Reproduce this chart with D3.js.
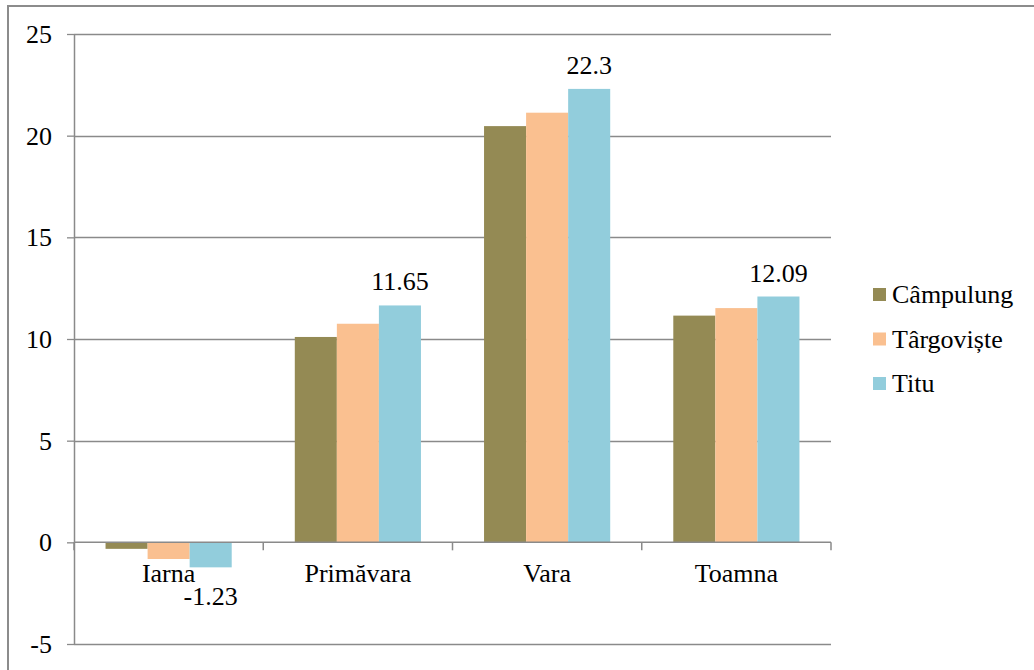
<!DOCTYPE html>
<html>
<head>
<meta charset="utf-8">
<script src="https://cdn.jsdelivr.net/npm/d3@7"></script>
<style>
  html, body { margin: 0; padding: 0; background: #fff; }
  svg { display: block; }
</style>
</head>
<body>
<svg id="chart" width="1034" height="670"></svg>
<script>
// Seasonal mean temperatures (°C) for three stations
const seasons = ["Iarna", "Primăvara", "Vara", "Toamna"];
const stations = ["Câmpulung", "Târgoviște", "Titu"];
const campulung = [-0.32, 10.1, 20.47, 11.15];
const targoviste = [-0.82, 10.75, 21.13, 11.52];
const titu = [-1.23, 11.65, 22.3, 12.09];
const stationColors = ["#948A54", "#FAC090", "#92CDDC"];
const yTicks = [-5, 0, 5, 10, 15, 20, 25];
const yTickLabels = ["-5", "0", "5", "10", "15", "20", "25"];
// Only the Titu series carries value labels
const labelledSeries = "Titu";

const seriesValues = [campulung, targoviste, titu];

const FONT = "Liberation Serif";
const fontSize = 26;
const gridColor = "#8a8a8a";

const svg = d3.select("#chart");

// Outer frame
svg.append("rect")
  .attr("x", 8).attr("y", 6)
  .attr("width", 1100).attr("height", 800)
  .attr("fill", "none")
  .attr("stroke", "#8c8c8c")
  .attr("stroke-width", 2);

const plot = { left: 74, right: 831, top: 34, bottom: 644 };

const y = d3.scaleLinear().domain([-5, 25]).range([plot.bottom, plot.top]);
const x0 = d3.scaleBand().domain(seasons).range([plot.left, plot.right]).paddingInner(0).paddingOuter(0);
// 150% gap: bars occupy 3 of 4.5 units of each category slot
const groupWidth = x0.bandwidth() * 3 / 4.5;
const x1 = d3.scaleBand().domain(stations).range([0, groupWidth]).padding(0);

// Horizontal gridlines with left ticks
const yAxis = d3.axisLeft(y).tickValues(yTicks).tickSize(7).tickPadding(15)
  .tickFormat((d, i) => yTickLabels[i]);
const gy = svg.append("g").attr("transform", `translate(${plot.left},0)`).call(yAxis);
gy.attr("font-family", FONT).attr("font-size", fontSize);
gy.select(".domain").remove();
gy.selectAll(".tick line").attr("stroke", gridColor).attr("stroke-width", 1.3);
gy.selectAll(".tick text")
  .attr("font-family", FONT)
  .attr("font-size", fontSize)
  .attr("fill", "#000")
  .attr("dy", "0.33em");

svg.append("g").selectAll("line")
  .data(yTicks.filter(d => d !== 0))
  .join("line")
  .attr("x1", plot.left).attr("x2", plot.right)
  .attr("y1", d => Math.round(y(d)) + 0.5).attr("y2", d => Math.round(y(d)) + 0.5)
  .attr("stroke", gridColor).attr("stroke-width", 1.3);

// Vertical value axis line
svg.append("line")
  .attr("x1", plot.left + 0.5).attr("x2", plot.left + 0.5)
  .attr("y1", plot.top).attr("y2", plot.bottom)
  .attr("stroke", gridColor).attr("stroke-width", 1.5);

// Bars
const groups = svg.append("g").selectAll("g")
  .data(seasons)
  .join("g")
  .attr("transform", d => `translate(${x0(d) + (x0.bandwidth() - groupWidth) / 2},0)`);

groups.selectAll("rect")
  .data((season, i) => stations.map((s, k) => ({ station: s, value: seriesValues[k][i], color: stationColors[k] })))
  .join("rect")
  .attr("x", d => x1(d.station))
  .attr("width", x1.bandwidth())
  .attr("y", d => Math.min(y(d.value), y(0)))
  .attr("height", d => Math.abs(y(d.value) - y(0)))
  .attr("fill", d => d.color);

// Category axis along zero, ticks between categories
const xAxisY = y(0);
svg.append("line")
  .attr("x1", plot.left).attr("x2", plot.right)
  .attr("y1", xAxisY).attr("y2", xAxisY)
  .attr("stroke", gridColor).attr("stroke-width", 1.5);

const boundaries = seasons.map(s => x0(s)).concat([plot.right]);
svg.append("g").selectAll("line")
  .data(boundaries)
  .join("line")
  .attr("x1", d => d).attr("x2", d => d)
  .attr("y1", xAxisY).attr("y2", xAxisY + 8)
  .attr("stroke", gridColor).attr("stroke-width", 1.5);

svg.append("g").selectAll("text")
  .data(seasons)
  .join("text")
  .attr("x", d => x0(d) + x0.bandwidth() / 2)
  .attr("y", xAxisY + 40)
  .attr("text-anchor", "middle")
  .attr("font-family", FONT)
  .attr("font-size", fontSize)
  .text(d => d);

// Value labels on the Titu bars
const li = stations.indexOf(labelledSeries);
svg.append("g").selectAll("text")
  .data(seasons.map((s, i) => ({ season: s, value: seriesValues[li][i] })))
  .join("text")
  .attr("x", d => x0(d.season) + (x0.bandwidth() - groupWidth) / 2 + x1(labelledSeries) + x1.bandwidth() / 2)
  .attr("y", d => d.value >= 0 ? y(d.value) - 15 : y(d.value) + 38)
  .attr("text-anchor", "middle")
  .attr("font-family", FONT)
  .attr("font-size", fontSize)
  .text(d => String(d.value));

// Legend
const legend = svg.append("g").attr("transform", "translate(873,0)");
const rows = legend.selectAll("g")
  .data(stations)
  .join("g")
  .attr("transform", (d, i) => `translate(0,${303 + i * 44.5})`);
rows.append("rect")
  .attr("x", 0).attr("y", -15)
  .attr("width", 13).attr("height", 13)
  .attr("fill", (d, i) => stationColors[i]);
rows.append("text")
  .attr("x", 19).attr("y", 0)
  .attr("font-family", FONT)
  .attr("font-size", fontSize)
  .text(d => d);
</script>
</body>
</html>
